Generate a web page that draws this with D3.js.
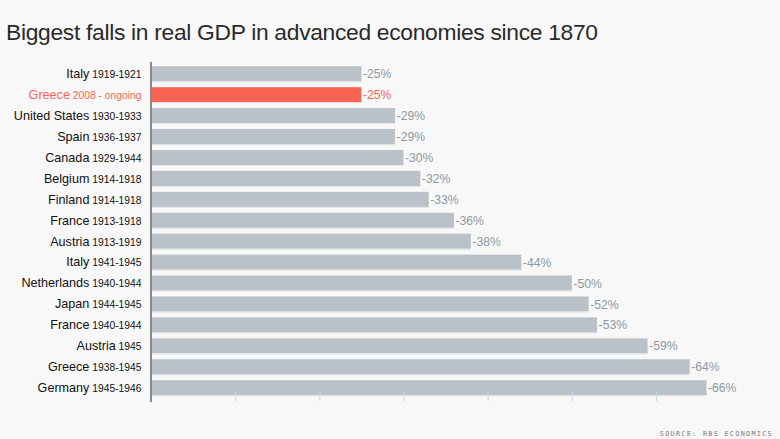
<!DOCTYPE html>
<html>
<head>
<meta charset="utf-8">
<script src="https://cdn.jsdelivr.net/npm/d3@7"></script>
<style>
  html, body { margin: 0; padding: 0; background: #f8f8f8; }
  svg { display: block; }
</style>
</head>
<body>
<svg id="chart" width="780" height="439"></svg>
<script>
const countries = ["Italy", "Greece", "United States", "Spain", "Canada", "Belgium", "Finland", "France", "Austria", "Italy", "Netherlands", "Japan", "France", "Austria", "Greece", "Germany"];
const periods = ["1919-1921", "2008 - ongoing", "1930-1933", "1936-1937", "1929-1944", "1914-1918", "1914-1918", "1913-1918", "1913-1919", "1941-1945", "1940-1944", "1944-1945", "1940-1944", "1945", "1938-1945", "1945-1946"];
const falls = [25, 25, 29, 29, 30, 32, 33, 36, 38, 44, 50, 52, 53, 59, 64, 66];
const highlighted = [false, true, false, false, false, false, false, false, false, false, false, false, false, false, false, false];
const tickValues = [10, 20, 30, 40, 50, 60];

const rows = countries.map((c, i) => ({ id: i, country: c, period: periods[i], value: falls[i], hi: highlighted[i] }));

const svg = d3.select("#chart");
const W = 780, H = 439;
svg.append("rect").attr("width", W).attr("height", H).attr("fill", "#f8f8f8");

svg.append("text")
  .attr("x", 6).attr("y", 40)
  .attr("font-family", "Liberation Sans, Arial, sans-serif")
  .attr("font-size", 22.8)
  .attr("fill", "#2a2a2a")
  .attr("letter-spacing", -0.3)
  .text("Biggest falls in real GDP in advanced economies since 1870");

const x0 = 151;
const x = d3.scaleLinear().domain([0, 66]).range([x0, 706.5]);
const y = d3.scaleBand().domain(rows.map(d => d.id)).range([63.3, 398.2]).paddingInner(0.28).paddingOuter(0.14);

const grey = "#bac1c8", red = "#f96454";

// bars
svg.append("g").selectAll("rect").data(rows).join("rect")
  .attr("x", x0)
  .attr("y", d => y(d.id))
  .attr("width", d => x(d.value) - x0)
  .attr("height", y.bandwidth())
  .attr("fill", d => d.hi ? red : grey);
// thin light line under each bar
svg.append("g").selectAll("rect").data(rows).join("rect")
  .attr("x", x0)
  .attr("y", d => y(d.id) + y.bandwidth())
  .attr("width", d => x(d.value) - x0)
  .attr("height", 1)
  .attr("fill", "#dfe3e8");

// value labels
svg.append("g").selectAll("text").data(rows).join("text")
  .attr("x", d => x(d.value) + 1.5)
  .attr("y", d => y(d.id) + y.bandwidth() / 2 + 4.5)
  .attr("font-family", "Liberation Sans, Arial, sans-serif")
  .attr("font-size", 12.2)
  .attr("fill", d => d.hi ? red : "#8d98a5")
  .text(d => "-" + d.value + "%");

// category labels
const lab = svg.append("g").selectAll("text").data(rows).join("text")
  .attr("x", 141.5)
  .attr("y", d => y(d.id) + y.bandwidth() / 2 + 4.3)
  .attr("text-anchor", "end")
  .attr("font-family", "Liberation Sans, Arial, sans-serif")
  .attr("fill", d => d.hi ? red : "#111");
lab.append("tspan").attr("font-size", 12.6).text(d => d.country);
lab.append("tspan").attr("font-size", 10.3).text(d => " " + d.period);

// bottom ticks
const axisG = svg.append("g").attr("transform", "translate(0,392)");
axisG.call(d3.axisBottom(x).tickValues(tickValues).tickSize(9).tickFormat(""));
axisG.select(".domain").remove();
axisG.selectAll(".tick line").attr("stroke", "#c5d9ea").attr("stroke-width", 1);

// left axis line
svg.append("line")
  .attr("x1", x0).attr("x2", x0)
  .attr("y1", 62).attr("y2", 402)
  .attr("stroke", "#8a8a8a").attr("stroke-width", 2);

// source
svg.append("text")
  .attr("x", 773).attr("y", 436)
  .attr("text-anchor", "end")
  .attr("font-family", "DejaVu Sans Mono, monospace")
  .attr("font-size", 6.8)
  .attr("letter-spacing", 1.3)
  .attr("fill", "#7a7a7a")
  .text("SOURCE: RBS ECONOMICS");
</script>
</body>
</html>
